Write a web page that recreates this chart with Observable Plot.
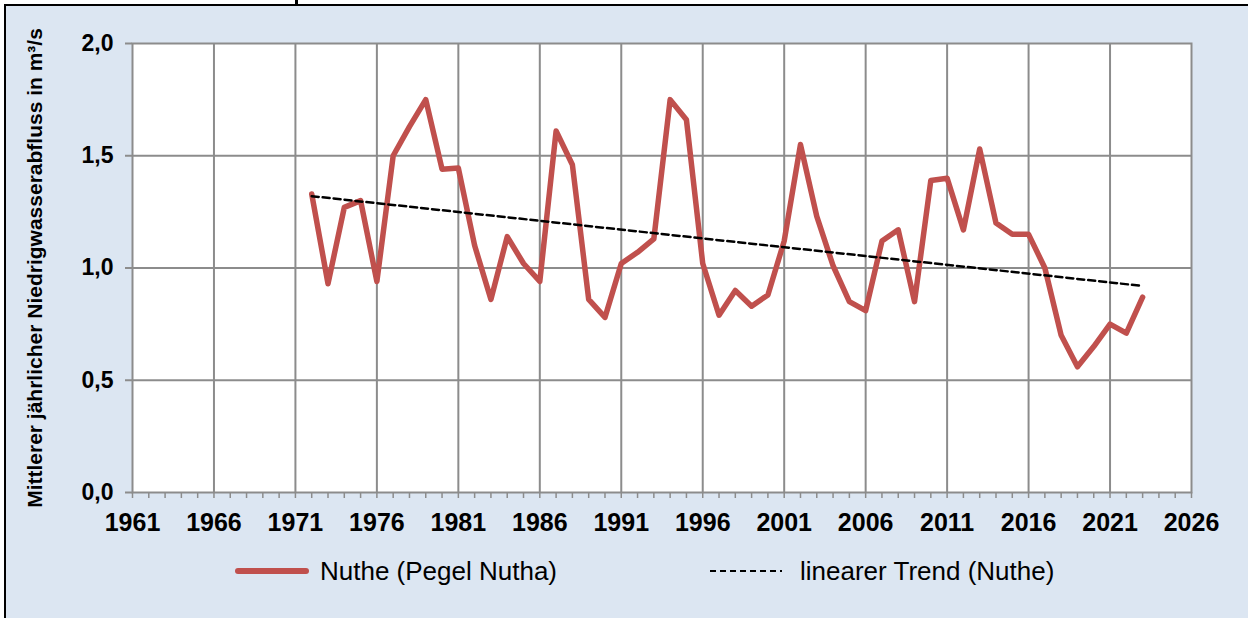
<!DOCTYPE html>
<html>
<head>
<meta charset="utf-8">
<script src="https://cdn.jsdelivr.net/npm/d3@7"></script>
<script src="https://cdn.jsdelivr.net/npm/@observablehq/plot@0.6"></script>
<style>
  html, body { margin: 0; padding: 0; background: #ffffff; }
  #wrap { position: relative; width: 1248px; height: 618px; overflow: hidden; background: #ffffff; font-family: "Liberation Sans", Arial, sans-serif; }
  #panel { position: absolute; left: 4px; top: 4px; width: 1250px; height: 620px; border-left: 2px solid #000; border-top: 2px solid #000; background: #dce6f2; }
  #divider { position: absolute; left: 295px; top: 0; width: 3px; height: 5px; background: #000; }
  #chart { position: absolute; left: 0; top: 0; }
  .leg { position: absolute; font-size: 26px; line-height: 30px; color: #000; white-space: nowrap; }
  .sw { position: absolute; }
</style>
</head>
<body>
<div id="wrap">
  <div id="panel"></div>
  <div id="divider"></div>
  <div id="chart"></div>
  <svg class="sw" style="left:232px;top:561px" width="80" height="20"><line x1="6" y1="10" x2="74" y2="10" stroke="#c0504d" stroke-width="6" stroke-linecap="round"/></svg>
  <div class="leg" id="leg1" style="left:320px;top:556px"></div>
  <svg class="sw" style="left:706px;top:561px" width="80" height="20"><line x1="4" y1="10" x2="76" y2="10" stroke="#000" stroke-width="2" stroke-dasharray="6,4"/></svg>
  <div class="leg" id="leg2" style="left:800px;top:556px"></div>
</div>
<script>
// ---- data ----
const years = [1972,1973,1974,1975,1976,1977,1978,1979,1980,1981,1982,1983,1984,1985,1986,1987,1988,1989,1990,1991,1992,1993,1994,1995,1996,1997,1998,1999,2000,2001,2002,2003,2004,2005,2006,2007,2008,2009,2010,2011,2012,2013,2014,2015,2016,2017,2018,2019,2020,2021,2022,2023];
const flows = [1.33,0.93,1.27,1.30,0.94,1.50,1.63,1.75,1.44,1.445,1.10,0.86,1.14,1.02,0.94,1.61,1.46,0.86,0.78,1.02,1.07,1.13,1.75,1.66,1.02,0.79,0.90,0.83,0.88,1.12,1.55,1.23,1.01,0.85,0.81,1.12,1.17,0.85,1.39,1.40,1.17,1.53,1.20,1.15,1.15,1.00,0.70,0.56,0.65,0.75,0.71,0.87];
const trendYears = [1972, 2023];
const trendValues = [1.32, 0.92];
const xTickLabels = ["1961","1966","1971","1976","1981","1986","1991","1996","2001","2006","2011","2016","2021","2026"];
const yTicks = [0, 0.5, 1.0, 1.5, 2.0];
const seriesName = "Nuthe (Pegel Nutha)";
const trendName = "linearer Trend (Nuthe)";
const yTitle = "Mittlerer jährlicher Niedrigwasserabfluss in m³/s";

const data = years.map((y, i) => ({year: y, value: flows[i]}));
const trend = trendYears.map((y, i) => ({year: y, value: trendValues[i]}));
const majorYears = xTickLabels.map(Number);
const allYears = d3.range(majorYears[0], majorYears[majorYears.length - 1] + 1);
const gridYears = majorYears.slice(1, -1);
const grid = "#8c8c8c";
const fmtY = d => d.toFixed(1).replace(".", ",");

const chart = Plot.plot({
  width: 1248,
  height: 545,
  marginLeft: 132,
  marginRight: 57,
  marginTop: 43,
  marginBottom: 53,
  style: {fontFamily: "'Liberation Sans', Arial, sans-serif", background: "transparent", overflow: "visible"},
  x: {domain: [majorYears[0], majorYears[majorYears.length - 1]]},
  y: {domain: [0, 2]},
  marks: [
    Plot.frame({fill: "white", stroke: null}),
    Plot.ruleX(gridYears, {stroke: grid, strokeWidth: 2}),
    Plot.ruleY(yTicks.slice(1, -1), {stroke: grid, strokeWidth: 2}),
    Plot.frame({stroke: grid, strokeWidth: 2}),
    Plot.axisY({ticks: yTicks, tickFormat: fmtY, tickSize: 7, tickPadding: 12, stroke: grid, strokeWidth: 2, fill: "black", fontSize: 23, fontWeight: "bold", label: null}),
    Plot.axisX({ticks: allYears, tickFormat: d => xTickLabels.includes(String(d)) ? String(d) : "", tickSize: 6, tickPadding: 15, stroke: grid, strokeWidth: 1.5, fill: "black", fontSize: 25, fontWeight: "bold", label: null}),
    Plot.line(data, {x: "year", y: "value", stroke: "#c0504d", strokeWidth: 5.5, strokeLinejoin: "round", strokeLinecap: "round"}),
    Plot.line(trend, {x: "year", y: "value", stroke: "black", strokeWidth: 2.5, strokeDasharray: "7,4"}),
    Plot.text([yTitle], {frameAnchor: "left", dx: -97, rotate: -90, textAnchor: "middle", fontSize: 21, fontWeight: "bold", fill: "black"})
  ]
});
document.getElementById("chart").appendChild(chart);
document.getElementById("leg1").textContent = seriesName;
document.getElementById("leg2").textContent = trendName;
</script>
</body>
</html>
